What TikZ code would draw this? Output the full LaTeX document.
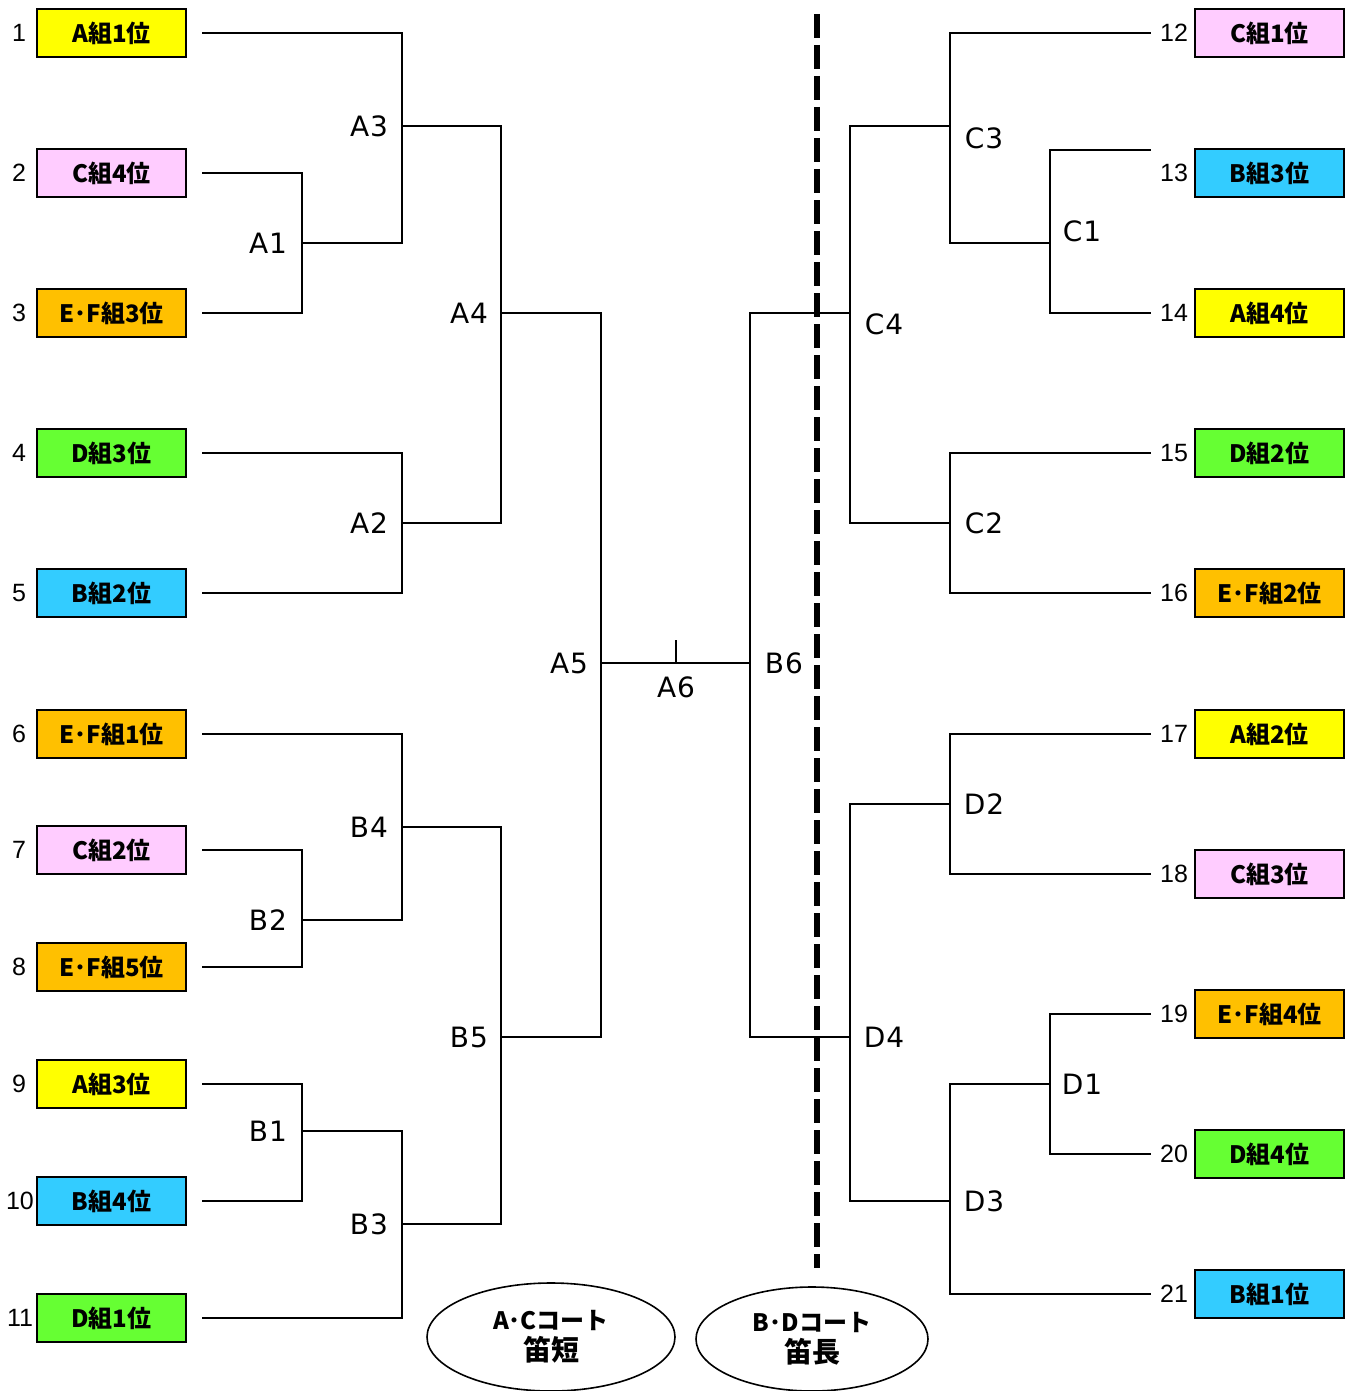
\documentclass[tikz,border=0pt]{standalone}
\usepackage{fontspec}
\setmainfont{Liberation Sans}
\newfontfamily\jp{Noto Sans CJK JP}
\newfontfamily\lbf{DejaVu Sans}
\usetikzlibrary{shapes.geometric}
\definecolor{cyel}{HTML}{FFFF00}
\definecolor{cpink}{HTML}{FFCCFF}
\definecolor{corg}{HTML}{FFC000}
\definecolor{cgrn}{HTML}{66FF33}
\definecolor{cblu}{HTML}{33CCFF}
\newcommand\mlab[2]{#1\kern1pt#2}
\tikzset{
  teambox/.style={draw=black, line width=2.6, minimum width=149, minimum height=48, inner sep=0pt,
    font=\jp\bfseries\fontsize{24}{26}\selectfont},
  seed/.style={inner sep=0pt, font=\fontsize{25}{27}\selectfont},
  mlabel/.style={inner sep=0pt, font=\lbf\fontsize{28}{30}\selectfont},
  bline/.style={line width=2.8, line cap=rect},
  court/.style={ellipse, draw=black, line width=1.6, inner sep=0pt, align=center,
    font=\jp\bfseries\fontsize{24}{34}\selectfont},
}
\begin{document}
\begin{tikzpicture}[x=1pt,y=-1pt]
\useasboundingbox (0,0) rectangle (1356,1391);
% ---------- left boxes ----------
\node[teambox, fill=cyel]  (b1)  at (111.5,33)   {A組1位};
\node[teambox, fill=cpink] (b2)  at (111.5,173)  {C組4位};
\node[teambox, fill=corg]  (b3)  at (111.5,313)  {E･F組3位};
\node[teambox, fill=cgrn]  (b4)  at (111.5,453)  {D組3位};
\node[teambox, fill=cblu]  (b5)  at (111.5,593)  {B組2位};
\node[teambox, fill=corg]  (b6)  at (111.5,734)  {E･F組1位};
\node[teambox, fill=cpink] (b7)  at (111.5,850)  {C組2位};
\node[teambox, fill=corg]  (b8)  at (111.5,967)  {E･F組5位};
\node[teambox, fill=cyel]  (b9)  at (111.5,1084) {A組3位};
\node[teambox, fill=cblu]  (b10) at (111.5,1201) {B組4位};
\node[teambox, fill=cgrn]  (b11) at (111.5,1318) {D組1位};
% ---------- right boxes ----------
\node[teambox, fill=cpink] (b12) at (1269.5,33)   {C組1位};
\node[teambox, fill=cblu]  (b13) at (1269.5,173)  {B組3位};
\node[teambox, fill=cyel]  (b14) at (1269.5,313)  {A組4位};
\node[teambox, fill=cgrn]  (b15) at (1269.5,453)  {D組2位};
\node[teambox, fill=corg]  (b16) at (1269.5,593)  {E･F組2位};
\node[teambox, fill=cyel]  (b17) at (1269.5,734)  {A組2位};
\node[teambox, fill=cpink] (b18) at (1269.5,874)  {C組3位};
\node[teambox, fill=corg]  (b19) at (1269.5,1014) {E･F組4位};
\node[teambox, fill=cgrn]  (b20) at (1269.5,1154) {D組4位};
\node[teambox, fill=cblu]  (b21) at (1269.5,1294) {B組1位};
% ---------- seed numbers ----------
\node[seed] (n1)  at (19,33)   {1};
\node[seed] (n2)  at (19,173)  {2};
\node[seed] (n3)  at (19,313)  {3};
\node[seed] (n4)  at (19,453)  {4};
\node[seed] (n5)  at (19,593)  {5};
\node[seed] (n6)  at (19,734)  {6};
\node[seed] (n7)  at (19,850)  {7};
\node[seed] (n8)  at (19,967)  {8};
\node[seed] (n9)  at (19,1084) {9};
\node[seed] (n10) at (20,1201) {10};
\node[seed] (n11) at (20,1318) {11};
\node[seed] (n12) at (1174,33)   {12};
\node[seed] (n13) at (1174,173)  {13};
\node[seed] (n14) at (1174,313)  {14};
\node[seed] (n15) at (1174,453)  {15};
\node[seed] (n16) at (1174,593)  {16};
\node[seed] (n17) at (1174,734)  {17};
\node[seed] (n18) at (1174,874)  {18};
\node[seed] (n19) at (1174,1014) {19};
\node[seed] (n20) at (1174,1154) {20};
\node[seed] (n21) at (1174,1294) {21};
% ---------- line ends ----------
\coordinate (s1) at (203,33);   \coordinate (s2) at (203,173);
\coordinate (s3) at (203,313);  \coordinate (s4) at (203,453);
\coordinate (s5) at (203,593);  \coordinate (s6) at (203,734);
\coordinate (s7) at (203,850);  \coordinate (s8) at (203,967);
\coordinate (s9) at (203,1084); \coordinate (s10) at (203,1201);
\coordinate (s11) at (203,1318);
\coordinate (t12) at (1150,33);   \coordinate (t13) at (1150,150);
\coordinate (t14) at (1150,313);  \coordinate (t15) at (1150,453);
\coordinate (t16) at (1150,593);  \coordinate (t17) at (1150,734);
\coordinate (t18) at (1150,874);  \coordinate (t19) at (1150,1014);
\coordinate (t20) at (1150,1154); \coordinate (t21) at (1150,1294);
% ---------- match junctions ----------
\coordinate (mA1) at (302,243);
\coordinate (mA3) at (402,126);
\coordinate (mA2) at (402,523);
\coordinate (mA4) at (501,313);
\coordinate (mB2) at (302,920);
\coordinate (mB4) at (402,827);
\coordinate (mB1) at (302,1131);
\coordinate (mB3) at (402,1224);
\coordinate (mB5) at (501,1037);
\coordinate (mA5) at (601,663);
\coordinate (mB6) at (750,663);
\coordinate (mC4) at (850,313);
\coordinate (mC3) at (950,126);
\coordinate (mC1) at (1050,243);
\coordinate (mC2) at (950,523);
\coordinate (mD4) at (850,1037);
\coordinate (mD2) at (950,804);
\coordinate (mD3) at (950,1201);
\coordinate (mD1) at (1050,1084);
\coordinate (tickA) at (676,640);
\coordinate (tickB) at (676,663);
% ---------- bracket lines ----------
\draw[bline] (s2) -| (mA1) |- (s3);
\draw[bline] (s1) -| (mA3) |- (mA1);
\draw[bline] (s4) -| (mA2) |- (s5);
\draw[bline] (mA3) -| (mA4) |- (mA2);
\draw[bline] (s7) -| (mB2) |- (s8);
\draw[bline] (s6) -| (mB4) |- (mB2);
\draw[bline] (s9) -| (mB1) |- (s10);
\draw[bline] (mB1) -| (mB3) |- (s11);
\draw[bline] (mB4) -| (mB5) |- (mB3);
\draw[bline] (mA4) -| (mA5) |- (mB5);
\draw[bline] (mA5) -- (mB6);
\draw[line width=1.6] (tickA) -- (tickB);
\draw[bline] (mC4) -| (mB6) |- (mD4);
\draw[bline] (mC3) -| (mC4) |- (mC2);
\draw[bline] (t12) -| (mC3) |- (mC1);
\draw[bline] (t13) -| (mC1) |- (t14);
\draw[bline] (t15) -| (mC2) |- (t16);
\draw[bline] (mD2) -| (mD4) |- (mD3);
\draw[bline] (t17) -| (mD2) |- (t18);
\draw[bline] (mD1) -| (mD3) |- (t21);
\draw[bline] (t19) -| (mD1) |- (t20);
% ---------- dashed divider ----------
\coordinate (dtop) at (817,14);
\coordinate (dbot) at (817,1268);
\draw[line width=6, dash pattern=on 24 off 7] (dtop) -- (dbot);
% ---------- match labels ----------
\node[mlabel] (lA3) at (369,126)  {\mlab{A}{3}};
\node[mlabel] (lA1) at (268,243)  {\mlab{A}{1}};
\node[mlabel] (lA4) at (469,313)  {\mlab{A}{4}};
\node[mlabel] (lA2) at (369,523)  {\mlab{A}{2}};
\node[mlabel] (lA5) at (569,663)  {\mlab{A}{5}};
\node[mlabel] (lA6) at (676,687)  {\mlab{A}{6}};
\node[mlabel] (lB6) at (784,663)  {\mlab{B}{6}};
\node[mlabel] (lB4) at (369,827)  {\mlab{B}{4}};
\node[mlabel] (lB2) at (268,920)  {\mlab{B}{2}};
\node[mlabel] (lB5) at (469,1037) {\mlab{B}{5}};
\node[mlabel] (lB1) at (268,1131) {\mlab{B}{1}};
\node[mlabel] (lB3) at (369,1224) {\mlab{B}{3}};
\node[mlabel] (lC3) at (984,138)  {\mlab{C}{3}};
\node[mlabel] (lC1) at (1082,231) {\mlab{C}{1}};
\node[mlabel] (lC4) at (884,324)  {\mlab{C}{4}};
\node[mlabel] (lC2) at (984,523)  {\mlab{C}{2}};
\node[mlabel] (lD2) at (984,804)  {\mlab{D}{2}};
\node[mlabel] (lD4) at (884,1037) {\mlab{D}{4}};
\node[mlabel] (lD1) at (1082,1084) {\mlab{D}{1}};
\node[mlabel] (lD3) at (984,1201) {\mlab{D}{3}};
% ---------- court ellipses ----------
\node[court, minimum width=248, minimum height=108] (ac) at (551,1337)
  {A･Cコート\\[-3pt]{\fontsize{28}{30}\selectfont 笛短}};
\node[court, minimum width=232, minimum height=104] (bd) at (812,1339)
  {B･Dコート\\[-3pt]{\fontsize{28}{30}\selectfont 笛長}};
\end{tikzpicture}
\end{document}
